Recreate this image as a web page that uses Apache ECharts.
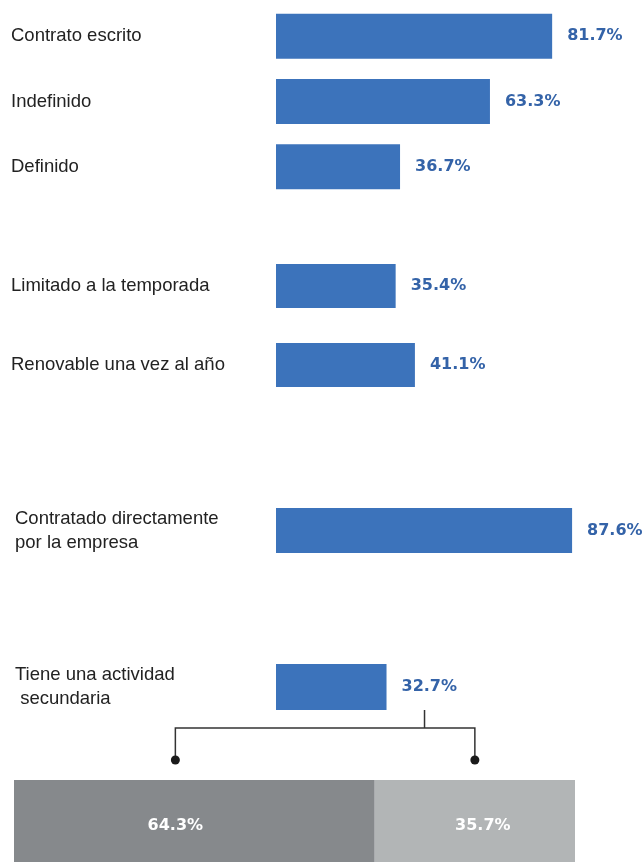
<!DOCTYPE html>
<html>
<head>
<meta charset="utf-8">
<script src="https://cdn.jsdelivr.net/npm/echarts@6/dist/echarts.min.js"></script>
<style>
html,body{margin:0;padding:0;background:#fff;}
#chart{width:643px;height:862px;}
</style>
</head>
<body>
<div id="chart"></div>
<script>
// ---- data ----
const categoriesContrato = ['Contrato escrito', 'Indefinido', 'Definido'];
const valuesContrato = [81.7, 63.3, 36.7];
const categoriesDuracion = ['Limitado a la temporada', 'Renovable una vez al año'];
const valuesDuracion = [35.4, 41.1];
const categoriesContratacion = ['Contratado directamente\npor la empresa'];
const valuesContratacion = [87.6];
const categoriesSecundaria = ['Tiene una actividad\n secundaria'];
const valuesSecundaria = [32.7];
const splitNames = ['Grupo 1', 'Grupo 2'];
const splitValues = [64.3, 35.7];

// ---- style ----
const FONT = "'Liberation Sans', Arial, sans-serif";
const NUM_FONT = "'DejaVu Sans', 'Liberation Sans', sans-serif";
const BLUE = '#3c73bb';
const BLUE_TEXT = '#3463a8';
const TEXT = '#222222';
const GRAYS = ['#86898c', '#b2b5b6'];
const SCALE_MAX = 100;
const BAR_LEFT = 276, BAR_W = 338;

const chart = echarts.init(document.getElementById('chart'), null, {renderer: 'canvas'});

const blueGroups = [
  {cats: categoriesContrato, vals: valuesContrato, top: 3.5, height: 196, barWidth: 45, margin: 265},
  {cats: categoriesDuracion, vals: valuesDuracion, top: 246.5, height: 158, barWidth: 44, margin: 265},
  {cats: categoriesContratacion, vals: valuesContratacion, top: 500.5, height: 60, barWidth: 45, margin: 261},
  {cats: categoriesSecundaria, vals: valuesSecundaria, top: 657, height: 60, barWidth: 46, margin: 261}
];

const grid = [], xAxis = [], yAxis = [], series = [];
blueGroups.forEach((g, i) => {
  grid.push({left: BAR_LEFT, width: BAR_W, top: g.top, height: g.height, containLabel: false});
  xAxis.push({type: 'value', gridIndex: i, min: 0, max: SCALE_MAX, show: false});
  yAxis.push({
    type: 'category', gridIndex: i, data: g.cats, inverse: true,
    axisLine: {show: false}, axisTick: {show: false}, splitLine: {show: false},
    axisLabel: {
      align: 'left', margin: g.margin, color: TEXT, fontFamily: FONT,
      fontSize: 18.5, lineHeight: 24, padding: [4, 0, 0, 0]
    }
  });
  series.push({
    type: 'bar', xAxisIndex: i, yAxisIndex: i, data: g.vals, barWidth: g.barWidth,
    itemStyle: {color: BLUE},
    label: {
      show: true, position: 'right', distance: 15,
      formatter: p => p.value + '%',
      color: BLUE_TEXT, fontFamily: NUM_FONT, fontWeight: 'bold', fontSize: 16
    },
    silent: true
  });
});

// stacked split bar
const si = blueGroups.length;
const SPLIT_H = 82;
grid.push({left: 14, width: 561, top: 780, height: SPLIT_H});
xAxis.push({type: 'value', gridIndex: si, min: 0, max: SCALE_MAX, show: false});
yAxis.push({type: 'category', gridIndex: si, data: [''], show: false});
const splitLabelOffsets = [[-19, 5], [8, 5]];
splitNames.forEach((n, k) => {
  series.push({
    type: 'bar', name: n, stack: 'split', xAxisIndex: si, yAxisIndex: si,
    data: [splitValues[k]], barWidth: SPLIT_H,
    itemStyle: {color: GRAYS[k]},
    label: {
      show: true, position: 'inside', offset: splitLabelOffsets[k],
      formatter: p => p.value + '%',
      color: '#ffffff', fontFamily: NUM_FONT, fontWeight: 'bold', fontSize: 16
    },
    silent: true
  });
});

chart.setOption({
  animation: false,
  backgroundColor: '#ffffff',
  grid, xAxis, yAxis, series
});

// ---- bracket annotation, anchored to the chart's own scales ----
const di = blueGroups.length - 1;
const endPt = chart.convertToPixel({xAxisIndex: di, yAxisIndex: di}, [valuesSecundaria[0], 0]);
const barBottom = endPt[1] + blueGroups[di].barWidth / 2;
const stemX = endPt[0] + 38;
const splitTop = chart.convertToPixel({xAxisIndex: si, yAxisIndex: si}, [0, 0])[1] - SPLIT_H / 2;
const leftDotX = chart.convertToPixel({xAxisIndex: si, yAxisIndex: si}, [splitValues[0] / 2, 0])[0] + splitLabelOffsets[0][0];
const rightDotX = chart.convertToPixel({xAxisIndex: si, yAxisIndex: si}, [splitValues[0] + splitValues[1] / 2, 0])[0];
const barY = barBottom + 18;
const dotY = splitTop - 20;
const lineStyle = {stroke: '#333333', lineWidth: 1.5};
chart.setOption({
  graphic: [
    {type: 'polyline', shape: {points: [[stemX, barBottom], [stemX, barY]]}, style: lineStyle, silent: true},
    {type: 'polyline', shape: {points: [[leftDotX, dotY], [leftDotX, barY], [rightDotX, barY], [rightDotX, dotY]]}, style: lineStyle, silent: true},
    {type: 'circle', shape: {cx: leftDotX, cy: dotY, r: 4.5}, style: {fill: '#1a1a1a'}, silent: true},
    {type: 'circle', shape: {cx: rightDotX, cy: dotY, r: 4.5}, style: {fill: '#1a1a1a'}, silent: true}
  ]
});
</script>
</body>
</html>
